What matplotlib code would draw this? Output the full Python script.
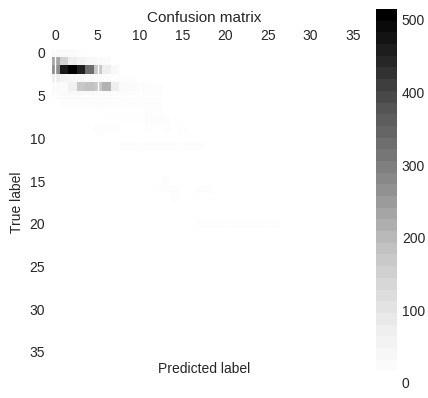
import numpy as np
import matplotlib
matplotlib.use("Agg")
import matplotlib.pyplot as plt
import seaborn as sns

sns.set_style("darkgrid")
plt.rcParams['font.family'] = ['Liberation Sans', 'DejaVu Sans']

n_classes = 36
tick_values = [0, 5, 10, 15, 20, 25, 30, 35]
cbar_ticks = [0, 100, 200, 300, 400, 500]

# sparse confusion-matrix entries (true row, predicted col, count)
rows = [0, 0, 0, 0,
        1, 1, 1, 1, 1, 1, 1,
        2, 2, 2, 2, 2, 2, 2, 2,
        3, 3, 3, 3, 3, 3, 3, 3, 3, 3,
        4, 4, 4, 4, 4, 4, 4, 4, 4, 4, 4, 4, 4,
        5, 5, 5, 5, 5, 5, 5, 5, 5, 5, 5, 5, 5,
        6, 6, 6, 6, 6, 6, 6, 6, 6, 6, 6, 6,
        7, 7, 7, 7, 7, 7, 7,
        8, 8, 8, 8, 8, 8, 8, 8,
        9, 9, 9, 9, 9, 9,
        11, 11, 11, 11, 11, 11, 11, 11, 11, 11,
        15, 16, 16, 16, 16, 16, 17,
        20, 20, 20, 20, 20, 20, 20, 20, 20, 20]
cols = [0, 1, 2, 3,
        0, 1, 2, 3, 4, 5, 6,
        0, 1, 2, 3, 4, 5, 6, 7,
        0, 1, 2, 3, 4, 5, 6, 7, 8, 9,
        0, 1, 2, 3, 4, 5, 6, 7, 8, 9, 10, 11, 12,
        0, 1, 2, 3, 4, 5, 6, 7, 8, 9, 10, 11, 12,
        1, 2, 3, 4, 5, 6, 7, 8, 9, 10, 11, 12,
        6, 7, 8, 9, 10, 11, 12,
        6, 7, 8, 9, 10, 11, 12, 13,
        5, 6, 7, 11, 13, 15,
        8, 9, 10, 11, 12, 13, 14, 15, 16, 17,
        13, 12, 13, 14, 17, 18, 14,
        17, 18, 19, 20, 21, 22, 23, 24, 25, 26]
counts = [20, 25, 20, 10,
          230, 140, 70, 45, 30, 25, 15,
          270, 470, 515, 460, 330, 170, 70, 25,
          70, 45, 35, 35, 25, 20, 15, 10, 8, 8,
          20, 15, 60, 170, 180, 170, 210, 70, 20, 15, 12, 10, 8,
          15, 20, 25, 25, 25, 20, 20, 15, 12, 10, 8, 10, 10,
          10, 10, 12, 12, 12, 10, 10, 10, 10, 8, 10, 10,
          6, 6, 6, 6, 6, 10, 10,
          6, 6, 6, 6, 6, 13, 13, 10,
          7, 7, 7, 9, 10, 9,
          10, 10, 10, 9, 9, 9, 9, 9, 10, 10,
          7, 9, 9, 9, 9, 9, 7,
          8, 8, 8, 8, 8, 8, 8, 8, 8, 8]

cm = np.zeros((n_classes, n_classes))
cm[rows, cols] = counts

W, H = 428, 398
fig = plt.figure(figsize=(W / 100, H / 100), dpi=100)
ax = fig.add_axes([50.7 / W, 1 - 356 / H, 306.7 / W, 307.3 / H])
cax = fig.add_axes([376 / W, 1 - 383 / H, 21 / W, 374 / H])

im = ax.imshow(cm, interpolation='nearest', cmap=plt.cm.Greys, aspect='auto')
ax.xaxis.tick_top()
ax.set_xticks(tick_values)
ax.set_yticks(tick_values)
ax.tick_params(labelsize=10, length=0, pad=4)
ax.grid(True, color='white', linewidth=1)
ax.set_xlabel('Predicted label', fontsize=10)
ax.set_ylabel('True label', fontsize=10)
ax.xaxis.set_label_position('bottom')

# colorbar shown with the banded look of the reference
banded = matplotlib.cm.ScalarMappable(norm=im.norm, cmap=plt.get_cmap('Greys', 32))
cb = fig.colorbar(banded, cax=cax)
cb.set_ticks(cbar_ticks)
cb.outline.set_visible(False)
cax.tick_params(labelsize=10, length=0)

fig.text(204 / W, 1 - 18 / H, 'Confusion matrix', ha='center', va='center', fontsize=11)

fig.savefig('out.png', dpi=100)
